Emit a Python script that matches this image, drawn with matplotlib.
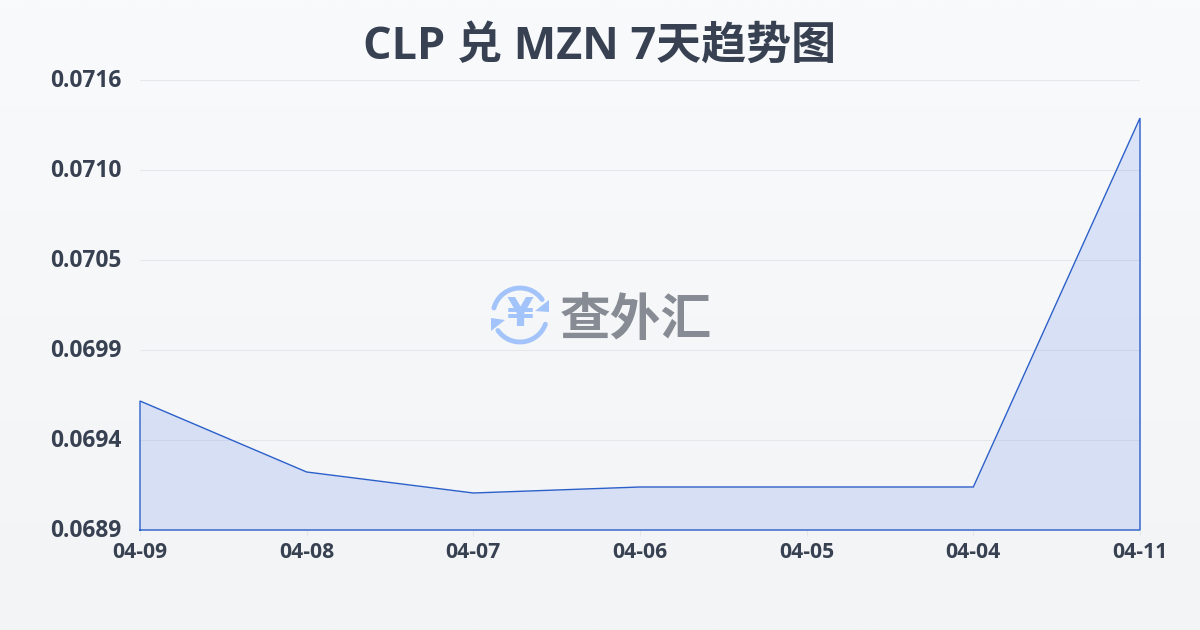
import numpy as np
import matplotlib.pyplot as plt
from matplotlib.patches import Arc, Polygon
from matplotlib.transforms import ScaledTranslation

plt.rcParams['font.family'] = ['Open Sans', 'Noto Sans CJK SC', 'DejaVu Sans']

the_title = 'CLP 兑 MZN 7天趋势图'
dates = ['04-09', '04-08', '04-07', '04-06', '04-05', '04-04', '04-11']
rates = [0.069674, 0.069248, 0.069122, 0.069158, 0.069158, 0.069158, 0.071372]
y_ticks = [0.0689, 0.06944, 0.06998, 0.07052, 0.07106, 0.0716]
y_labels = ['0.0689', '0.0694', '0.0699', '0.0705', '0.0710', '0.0716']
text_col = '#374151'
line_col = '#2b5fc9'

fig = plt.figure(figsize=(12, 6.3), dpi=100)

# background gradient
bg = fig.add_axes([0, 0, 1, 1], zorder=0)
bg.imshow(np.linspace(0, 1, 256).reshape(-1, 1), aspect='auto', extent=(0, 1200, 630, 0),
          cmap=plt.matplotlib.colors.LinearSegmentedColormap.from_list('bg', ['#f9fafc', '#f3f4f6']))
bg.axis('off')

# main plot, 140..1140 x 80..530 px
ax = fig.add_axes([140 / 1200, 1 - 530 / 630, 1000 / 1200, 450 / 630], zorder=1)
ax.patch.set_alpha(0)
x = np.arange(len(dates))
ax.fill_between(x, rates, y_ticks[0], color='#3f72ea', alpha=0.16, lw=0, zorder=2)
ax.plot(np.r_[x[0], x, x[-1], x[0]], np.r_[y_ticks[0], rates, y_ticks[0], y_ticks[0]],
        color=line_col, lw=1, zorder=3, solid_joinstyle='miter', clip_on=False)
ax.set_xlim(0, len(dates) - 1)
ax.set_ylim(y_ticks[0], y_ticks[-1])
ax.set_yticks(y_ticks, y_labels, fontsize=16.4, fontweight='bold', color=text_col)
ax.set_xticks(x, dates, fontsize=15.2, fontweight='bold', color=text_col)
ax.tick_params(axis='y', length=0, pad=13.5)
ax.tick_params(axis='x', length=4, width=0.8, color='#e5e7eb', pad=4.5)
ax.grid(axis='y', color='#e5e7eb', lw=0.8, zorder=1)
for s in ax.spines.values():
    s.set_visible(False)
for lab in ax.get_yticklabels():
    lab.set_transform(lab.get_transform() + ScaledTranslation(0, 2 / 100, fig.dpi_scale_trans))

fig.text(0.5, 1 - 47 / 630, the_title, ha='center', va='center', fontsize=32.4,
         fontweight='bold', color=text_col)

# watermark logo
wm = fig.add_axes([0, 0, 1, 1], zorder=3)
wm.set_xlim(0, 1200)
wm.set_ylim(630, 0)
wm.axis('off')
icon = '#a3c4fa'
cx, cy = 520, 315
wm.add_patch(Arc((cx, cy), 54, 54, theta1=195, theta2=325, color=icon, lw=3.5, capstyle='round'))
wm.add_patch(Arc((cx, cy), 54, 54, theta1=20, theta2=145, color=icon, lw=3.5, capstyle='round'))
wm.add_patch(Polygon([(549, 300), (549, 312), (535, 311)], color=icon, lw=0))
wm.add_patch(Polygon([(491, 318), (491, 331), (505, 320)], color=icon, lw=0))
wm.text(cx, cy, '¥', ha='center', va='center', fontsize=28, fontweight='bold', color=icon,
        family=['DejaVu Sans'])
wm.text(636, 320, '查外汇', ha='center', va='center', fontsize=36.5, fontweight='bold',
        color='#868b94', family=['Noto Sans CJK SC'])

fig.savefig('out.png', dpi=100)
